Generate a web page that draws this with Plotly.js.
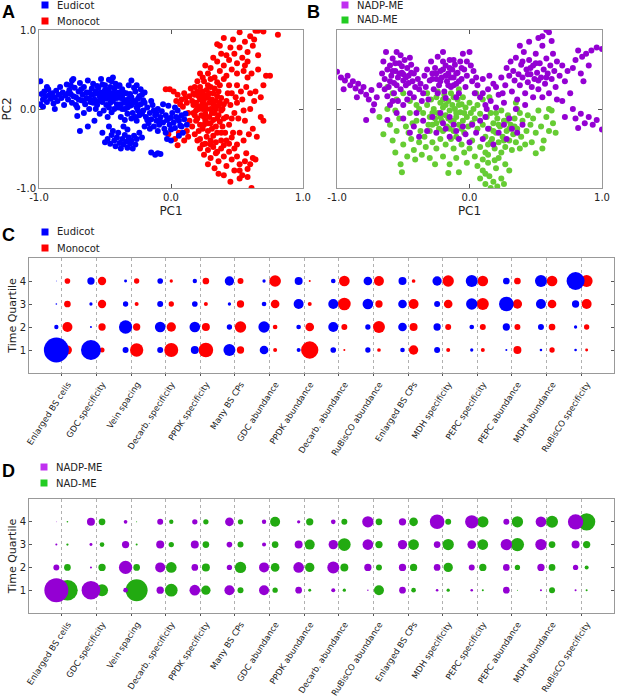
<!DOCTYPE html>
<html><head><meta charset="utf-8">
<script src="https://cdn.plot.ly/plotly-3.0.1.min.js"></script>
<style>html,body{margin:0;padding:0;background:#fff}#chart{width:617px;height:697px}</style>
</head><body><div id="chart"></div>
<script>
const W = 617, H = 697;

// ---------- Panel A / B : PCA scores ----------
const pcTicks = [-1, 0, 1];
const pcTickText = ['-1.0', '0.0', '1.0'];

const eudicotPC = [
[-0.99,0.35],[-0.98,0.19],[-0.97,0.12],[-0.99,0.06],[-0.96,0.22],[-0.95,0.16],[-0.94,0.09],[-0.93,0.25],[-0.92,0.18],[-0.91,0.13],[-0.9,0.2],[-0.89,0.07],[-0.88,0.15],[-0.87,0.23],[-0.86,0.1],[-0.85,0.18],[-0.84,0.28],[-0.83,0.14],[-0.82,0.21],[-0.81,0.05],[-0.8,0.17],[-0.79,0.31],[-0.97,0.03],[-0.94,0.28],[-0.88,0.0],
[-0.78,0.12],[-0.77,0.24],[-0.76,0.19],[-0.75,0.08],[-0.74,0.38],[-0.73,0.27],[-0.72,0.15],[-0.71,0.02],[-0.7,0.22],[-0.69,0.33],[-0.68,0.11],[-0.67,0.18],[-0.66,0.28],[-0.65,0.06],[-0.64,0.14],[-0.63,0.36],[-0.62,0.21],[-0.61,0.09],[-0.6,0.26],[-0.78,0.2],[-0.76,0.3],[-0.74,0.16],[-0.72,0.05],[-0.7,0.12],[-0.68,0.25],[-0.66,0.1],[-0.64,0.21],[-0.62,0.13],[-0.6,0.18],[-0.71,-0.09],[-0.69,-0.28],[-0.63,-0.22],[-0.66,-0.05],[-0.62,0.0],[-0.75,0.36],
[-0.59,0.32],[-0.58,0.12],[-0.57,0.22],[-0.56,0.05],[-0.55,0.27],[-0.54,0.16],[-0.53,0.38],[-0.52,0.09],[-0.51,0.2],[-0.5,0.3],[-0.49,0.13],[-0.48,0.24],[-0.47,0.02],[-0.46,0.17],[-0.45,0.35],[-0.44,0.1],[-0.43,0.26],[-0.42,0.19],[-0.41,0.06],[-0.4,0.29],[-0.58,0.19],[-0.56,0.29],[-0.55,0.1],[-0.53,0.21],[-0.52,0.31],[-0.5,0.15],[-0.49,0.05],[-0.47,0.22],[-0.46,0.28],[-0.45,0.12],[-0.44,0.2],[-0.42,0.32],[-0.41,0.14],[-0.57,0.0],[-0.54,-0.06],[-0.51,-0.02],[-0.48,-0.1],[-0.45,-0.04],[-0.43,0.0],[-0.59,0.08],[-0.5,0.24],[-0.47,0.37],[-0.43,0.14],[-0.55,0.2],[-0.48,0.18],[-0.52,0.14],[-0.46,0.08],[-0.4,0.21],[-0.58,-0.15],[-0.44,0.4],
[-0.39,0.17],[-0.38,0.06],[-0.37,0.25],[-0.36,0.12],[-0.35,0.0],[-0.34,0.2],[-0.33,0.09],[-0.32,0.3],[-0.31,0.04],[-0.3,0.15],[-0.29,-0.05],[-0.28,0.1],[-0.27,0.22],[-0.26,0.02],[-0.25,0.13],[-0.24,-0.08],[-0.23,0.06],[-0.22,0.18],[-0.21,-0.02],[-0.2,0.08],[-0.39,0.3],[-0.37,0.0],[-0.36,0.21],[-0.34,0.1],[-0.33,-0.06],[-0.31,0.19],[-0.3,0.05],[-0.28,0.27],[-0.27,-0.1],[-0.25,0.04],[-0.24,0.16],[-0.22,-0.06],[-0.21,0.11],[-0.38,-0.1],[-0.35,-0.14],[-0.3,-0.12],[-0.26,-0.15],[-0.32,0.13],[-0.29,0.08],[-0.35,0.08],[-0.38,0.14],[-0.23,0.25],[-0.3,0.36],[-0.26,0.3],[-0.2,0.21],[-0.33,0.02],[-0.37,0.17],[-0.27,0.08],[-0.25,-0.02],[-0.4,0.02],
[-0.5,-0.42],[-0.48,-0.38],[-0.46,-0.44],[-0.45,-0.33],[-0.43,-0.4],[-0.42,-0.47],[-0.41,-0.36],[-0.4,-0.3],[-0.39,-0.43],[-0.38,-0.5],[-0.37,-0.38],[-0.36,-0.45],[-0.35,-0.33],[-0.34,-0.41],[-0.33,-0.49],[-0.32,-0.36],[-0.31,-0.44],[-0.3,-0.4],[-0.29,-0.5],[-0.28,-0.34],[-0.27,-0.45],[-0.26,-0.38],[-0.24,-0.3],[-0.22,-0.36],[-0.44,-0.28],[-0.52,-0.3],[-0.33,-0.26],[-0.36,-0.22],[-0.47,-0.22],
[-0.19,-0.1],[-0.18,0.02],[-0.17,-0.18],[-0.16,-0.05],[-0.15,-0.13],[-0.14,0.05],[-0.13,-0.22],[-0.12,-0.08],[-0.11,-0.15],[-0.1,0.0],[-0.09,-0.2],[-0.08,-0.1],[-0.07,-0.03],[-0.06,-0.17],[-0.05,-0.25],[-0.04,-0.08],[-0.03,-0.14],[-0.02,0.04],[-0.01,-0.2],[0.0,-0.11],[0.01,-0.05],[0.02,-0.17],[0.03,-0.24],[0.04,-0.1],[0.05,-0.02],[0.06,-0.15],[0.07,-0.21],[0.08,-0.08],[0.09,-0.3],[0.1,-0.13],[0.12,-0.2],[-0.18,-0.14],[-0.15,0.1],[-0.13,-0.02],[-0.1,-0.28],[-0.08,-0.16],[-0.06,0.06],[-0.04,-0.3],[-0.02,-0.12],[0.0,-0.26],[0.03,0.02],[0.05,-0.12],[0.0,-0.4],[-0.03,-0.38],[-0.15,-0.55],[-0.12,-0.58],[-0.1,-0.56],[-0.08,-0.57],[0.08,-0.22],[-0.11,-0.06],[-0.16,-0.25],[-0.2,-0.22],[0.11,-0.06],[0.06,-0.34]
];

const monocotPC = [
[-0.04,0.25],[-0.01,0.25],[0.02,0.22],[0.05,0.18],[0.08,0.12],[0.1,0.2],[0.12,0.08],[0.14,0.16],[0.09,0.03],[0.13,-0.05],[0.06,-0.3],[0.03,-0.38],[0.05,-0.46],[0.1,-0.4],[0.12,-0.28],[0.14,-0.15],[0.07,0.06],[0.11,0.14],[-0.02,-0.32],[0.15,0.26],[0.04,0.1],[0.13,-0.35],
[0.16,0.1],[0.17,-0.05],[0.18,0.18],[0.19,-0.15],[0.2,0.03],[0.21,-0.28],[0.22,0.12],[0.23,-0.08],[0.24,0.22],[0.25,-0.2],[0.26,0.05],[0.27,-0.35],[0.28,0.15],[0.29,-0.1],[0.3,0.0],[0.31,-0.25],[0.32,0.2],[0.33,-0.05],[0.34,0.1],[0.35,-0.3],[0.36,0.04],[0.37,-0.16],[0.38,0.14],[0.39,-0.22],[0.4,0.06],
[0.16,-0.22],[0.17,0.2],[0.18,-0.32],[0.19,0.08],[0.2,-0.12],[0.21,0.16],[0.22,-0.38],[0.23,0.04],[0.24,-0.25],[0.25,0.12],[0.26,-0.06],[0.27,0.24],[0.28,-0.18],[0.29,0.08],[0.3,-0.4],[0.31,0.12],[0.32,-0.14],[0.33,0.26],[0.34,-0.22],[0.35,0.16],[0.36,-0.08],[0.37,0.3],[0.38,-0.3],[0.39,0.0],[0.4,-0.12],
[0.17,0.05],[0.19,-0.02],[0.21,0.0],[0.23,0.18],[0.25,-0.1],[0.27,0.0],[0.29,0.2],[0.31,-0.05],[0.33,0.03],[0.35,-0.12],[0.37,0.08],[0.2,0.22],[0.22,-0.2],[0.24,0.0],[0.26,0.17],[0.28,-0.28],[0.3,0.1],[0.32,-0.34],[0.34,0.0],[0.36,0.22],[0.38,-0.02],[0.18,-0.08],[0.26,-0.15],[0.3,-0.18],[0.24,0.08],[0.28,0.3],[0.22,0.28],[0.32,0.06],[0.34,-0.42],[0.26,-0.44],[0.2,-0.4],[0.18,0.28],[0.35,0.34],[0.25,0.35],[0.3,0.28],
[0.22,-0.5],[0.25,-0.58],[0.28,-0.52],[0.3,-0.62],[0.32,-0.48],[0.34,-0.56],[0.36,-0.66],[0.38,-0.5],[0.4,-0.6],[0.42,-0.72],[0.44,-0.54],[0.46,-0.64],[0.48,-0.78],[0.5,-0.6],[0.52,-0.7],[0.54,-0.84],[0.56,-0.66],[0.58,-0.76],[0.6,-0.7],[0.62,-0.62],[0.44,-0.44],[0.48,-0.5],[0.4,-0.46],[0.36,-0.82],[0.33,-0.75],[0.45,-0.92],[0.52,-0.88],[0.61,-1.0],[0.64,-0.64],[0.57,-0.56],[0.5,-0.45],[0.42,-0.4],[0.38,-0.4],[0.46,-0.36],[0.55,-0.4],[0.28,-0.7],[0.4,-0.84],[0.52,-0.78],[0.58,-0.86],[0.3,-0.45],[0.24,-0.45],[0.35,-0.54],
[0.42,0.1],[0.44,-0.2],[0.46,0.2],[0.48,-0.05],[0.5,0.3],[0.52,-0.3],[0.54,0.12],[0.56,-0.15],[0.58,0.4],[0.6,0.0],[0.62,-0.25],[0.64,0.22],[0.66,0.5],[0.68,-0.1],[0.7,0.3],[0.72,0.42],[0.75,0.42],[0.7,-0.15],[0.45,0.05],[0.47,-0.3],[0.49,0.15],[0.51,-0.12],[0.53,0.22],[0.55,-0.02],[0.57,0.28],[0.59,-0.32],[0.61,0.45],[0.63,0.1],[0.65,-0.35],[0.42,-0.1],[0.44,0.3],[0.41,-0.3],[0.43,0.2],[0.46,-0.12],[0.5,0.08],[0.56,0.55],[0.6,0.2],[0.68,0.15],
[0.2,0.35],[0.24,0.4],[0.28,0.45],[0.3,0.52],[0.33,0.4],[0.35,0.6],[0.37,0.48],[0.4,0.55],[0.42,0.42],[0.44,0.62],[0.46,0.5],[0.48,0.7],[0.5,0.58],[0.52,0.78],[0.54,0.65],[0.56,0.85],[0.58,0.72],[0.6,0.92],[0.62,0.8],[0.4,0.38],[0.38,0.7],[0.35,0.82],[0.37,0.8],[0.42,0.68],[0.45,0.78],[0.5,0.45],[0.55,0.48],[0.3,0.38],[0.26,0.55],[0.22,0.45],[0.66,0.99],[0.64,0.99],[0.7,0.98],[0.52,0.97],[0.81,0.94],[0.63,0.88],[0.66,0.68],[0.47,0.88],[0.32,0.65],[0.58,0.6],[0.4,0.9]
];

const nadpPC = [
[-1.0,0.47],[-0.97,0.4],[-0.94,0.36],[-0.92,0.42],[-0.9,0.3],[-0.88,0.35],[-0.86,0.26],[-0.84,0.32],[-0.82,0.22],[-0.8,0.28],[-0.78,0.18],[-0.76,0.12],[-0.74,0.24],[-0.72,0.06],[-0.7,0.15],[-0.78,-0.14],[-0.73,-0.02],[-0.68,0.3],[-0.95,0.25],[-0.85,0.15],
[-0.66,0.45],[-0.65,0.6],[-0.64,0.38],[-0.63,0.72],[-0.62,0.5],[-0.61,0.28],[-0.6,0.55],[-0.59,0.42],[-0.58,0.64],[-0.57,0.33],[-0.56,0.48],[-0.55,0.72],[-0.54,0.4],[-0.53,0.58],[-0.52,0.25],[-0.51,0.46],[-0.5,0.36],[-0.49,0.62],[-0.48,0.3],[-0.47,0.52],[-0.46,0.42],[-0.45,0.2],[-0.44,0.56],[-0.43,0.35],[-0.42,0.45],[-0.41,0.28],[-0.4,0.5],[-0.39,0.38],[-0.6,0.35],[-0.58,0.48],[-0.56,0.58],[-0.55,0.3],[-0.53,0.45],[-0.51,0.54],[-0.5,0.44],[-0.48,0.4],[-0.46,0.33],[-0.44,0.46],[-0.57,0.2],[-0.62,0.16],[-0.54,0.1],[-0.5,0.05],[-0.47,0.12],[-0.6,0.05],[-0.52,0.68],[-0.45,0.65],[-0.58,0.1],[-0.64,0.25],[-0.42,0.15],[-0.38,0.25],
[-0.37,0.32],[-0.35,0.2],[-0.34,0.42],[-0.33,0.28],[-0.31,0.12],[-0.36,0.1],
[-0.32,0.5],[-0.3,0.36],[-0.29,0.6],[-0.28,0.45],[-0.27,0.25],[-0.26,0.52],[-0.25,0.38],[-0.24,0.66],[-0.23,0.3],[-0.22,0.48],[-0.21,0.4],[-0.2,0.72],[-0.19,0.22],[-0.18,0.55],[-0.17,0.35],[-0.16,0.45],[-0.15,0.62],[-0.14,0.28],[-0.13,0.5],[-0.12,0.4],[-0.11,0.56],[-0.1,0.32],[-0.09,0.46],[-0.08,0.2],[-0.07,0.6],[-0.06,0.38],[-0.05,0.7],[-0.04,0.5],[-0.03,0.28],[-0.02,0.42],[0.0,0.72],[0.01,0.55],[0.02,0.35],[0.03,0.48],[0.04,0.2],[-0.28,0.38],[-0.25,0.45],[-0.22,0.35],[-0.2,0.5],[-0.18,0.42],[-0.16,0.3],[-0.14,0.4],[-0.12,0.62],[-0.1,0.45],[-0.08,0.35],[-0.06,0.52],[-0.2,0.6],[-0.15,0.52],[-0.24,0.2],[-0.1,0.15],[-0.02,0.6],[-0.12,0.3],[-0.18,0.14],[0.05,0.4],
[0.06,0.3],[0.08,0.15],[0.1,0.38],[0.12,0.05],[0.14,0.25],[0.16,0.1],[0.18,0.32],[0.2,0.02],[0.22,0.18],[0.24,0.4],[0.26,0.08],[0.1,0.2],[0.15,0.42],[0.2,0.28],[0.25,0.2],[0.13,0.0],
[0.27,0.3],[0.28,0.52],[0.3,0.42],[0.31,0.6],[0.32,0.22],[0.33,0.48],[0.34,0.36],[0.35,0.65],[0.36,0.12],[0.37,0.44],[0.38,0.3],[0.39,0.56],[0.4,0.4],[0.41,0.72],[0.42,0.2],[0.43,0.5],[0.44,0.34],[0.45,0.62],[0.46,0.44],[0.47,0.28],[0.48,0.55],[0.49,0.38],[0.5,0.7],[0.51,0.46],[0.52,0.25],[0.53,0.58],[0.54,0.4],[0.55,0.8],[0.56,0.5],[0.57,0.32],[0.58,0.64],[0.59,0.45],[0.6,0.2],[0.61,0.55],[0.62,0.38],[0.63,0.7],[0.64,0.48],[0.65,0.28],[0.66,0.6],[0.68,0.42],[0.7,0.55],[0.72,0.35],[0.74,0.48],[0.38,0.8],[0.45,0.85],[0.52,0.9],[0.55,0.92],[0.58,1.0],[0.6,0.97],[0.62,0.86],[0.48,0.15],[0.55,0.15],[0.42,0.05],[0.35,0.0],[0.66,0.12],[0.46,0.52],[0.52,0.36],[0.58,0.4],[0.5,0.58],[0.44,0.44],[0.4,0.6],
[0.78,0.52],[0.8,0.62],[0.82,0.74],[0.85,0.66],[0.88,0.7],[0.92,0.74],[0.96,0.78],[1.0,0.76],[0.84,0.45],[0.9,0.55],[0.86,0.35],[0.78,0.0],[0.8,-0.12],[0.84,-0.06],[0.87,-0.18],[0.9,-0.1],[0.93,-0.2],[0.96,-0.14],[1.0,-0.26],[0.82,-0.24],[0.76,0.2],[0.72,-0.1],[0.7,0.1],
[-0.62,-0.14],[-0.55,-0.05],[-0.5,-0.12],[-0.45,-0.3],[-0.42,-0.22],[-0.38,-0.35],[-0.35,-0.15],[-0.32,-0.28],[-0.28,-0.1],[-0.25,-0.3],[-0.2,-0.18],[-0.18,-0.25],[-0.15,-0.35],[-0.12,-0.2],[-0.1,-0.28],[-0.08,-0.38],[-0.05,-0.22],[-0.03,-0.32],[0.0,-0.42],[0.02,-0.2],[0.05,-0.3],[0.08,-0.15],[0.1,-0.38],[0.14,-0.25],[0.18,-0.45],[0.22,-0.3],[0.26,-0.2],[0.28,-0.38],[0.32,-0.25],[0.36,-0.3],[0.3,-0.12],[-0.4,-0.05],[-0.22,-0.05],[0.12,-0.1],[-0.15,-0.1],[0.4,-0.2]
];

const nadPC = [
[-0.32,0.05],[-0.3,-0.1],[-0.29,0.12],[-0.28,-0.2],[-0.27,0.0],[-0.26,-0.12],[-0.25,0.15],[-0.24,-0.05],[-0.23,-0.25],[-0.22,0.08],[-0.21,-0.15],[-0.2,0.02],[-0.19,0.18],[-0.18,-0.08],[-0.17,-0.22],[-0.16,0.1],[-0.15,-0.02],[-0.14,-0.15],[-0.13,0.05],[-0.12,-0.28],[-0.11,0.0],[-0.1,-0.1],[-0.09,0.12],[-0.08,-0.2],[-0.07,-0.04],[-0.06,0.06],[-0.05,-0.15],[-0.04,-0.3],[-0.03,0.02],[-0.02,-0.1],[-0.01,-0.22],[0.0,0.08],[0.01,-0.05],[0.02,-0.18],[0.03,0.0],[0.04,-0.12],[0.06,-0.25],[0.08,-0.06],[-0.28,-0.05],[-0.25,-0.18],[-0.22,-0.1],[-0.2,-0.28],[-0.18,0.05],[-0.15,-0.25],[-0.12,0.15],[-0.1,-0.05],[-0.08,0.05],[-0.06,-0.25],[-0.04,-0.05],[-0.14,0.2],[-0.2,0.12],[-0.05,0.15],[-0.3,-0.28],[-0.16,-0.12],[-0.1,-0.35],[0.06,0.05],[-0.24,0.22],[-0.12,-0.15],
[0.1,-0.2],[0.12,-0.35],[0.13,-0.1],[0.14,-0.45],[0.15,-0.25],[0.16,-0.05],[0.17,-0.38],[0.18,-0.18],[0.19,-0.5],[0.2,-0.3],[0.21,-0.12],[0.22,-0.42],[0.23,-0.22],[0.24,-0.02],[0.25,-0.35],[0.26,-0.15],[0.27,-0.48],[0.28,-0.28],[0.29,-0.08],[0.3,-0.4],[0.31,-0.2],[0.32,-0.52],[0.33,-0.32],[0.34,-0.12],[0.35,-0.42],[0.36,-0.25],[0.38,-0.05],[0.39,-0.35],[0.4,-0.15],[0.42,-0.45],[0.43,-0.28],[0.44,-0.08],[0.18,-0.28],[0.22,-0.2],[0.26,-0.4],[0.3,-0.25],[0.24,-0.55],[0.2,-0.05],[0.34,-0.22],[0.28,-0.15],[0.16,-0.42],[0.12,-0.55],[0.38,-0.5],[0.46,-0.2],[0.36,0.0],
[0.48,-0.12],[0.5,-0.3],[0.52,-0.02],[0.54,-0.22],[0.56,-0.4],[0.58,-0.1],[0.6,-0.28],[0.62,-0.02],[0.63,-0.18],[0.5,-0.56],[0.47,-0.42],[0.55,-0.5],[0.6,0.0],[0.65,-0.3],
[-0.65,-0.32],[-0.62,0.0],[-0.6,-0.2],[-0.58,-0.4],[-0.56,-0.55],[-0.55,-0.28],[-0.53,-0.12],[-0.52,-0.7],[-0.51,-0.8],[-0.5,-0.45],[-0.48,-0.22],[-0.47,-0.6],[-0.45,-0.05],[-0.44,-0.38],[-0.42,-0.52],[-0.41,-0.64],[-0.4,-0.15],[-0.38,-0.42],[-0.37,-0.28],[-0.36,-0.58],[-0.35,-0.05],[-0.34,-0.35],[-0.33,-0.48],[-0.31,-0.2],[-0.3,-0.62],[-0.58,0.2],[-0.62,0.28],[-0.55,0.12],[-0.5,0.2],[-0.45,0.1],[-0.4,0.05],[-0.68,-0.1],[-0.56,-0.02],[-0.46,-0.3],[-0.43,-0.18],[-0.38,0.0],
[-0.28,-0.42],[-0.25,-0.5],[-0.22,-0.38],[-0.2,-0.6],[-0.18,-0.45],[-0.15,-0.7],[-0.12,-0.5],[-0.1,-0.62],[-0.08,-0.8],[-0.06,-0.45],[-0.04,-0.55],[-0.02,-0.68],[0.0,-0.5],[0.02,-0.4],[0.04,-0.6],[0.06,-0.72],[0.08,-0.48],[-0.16,-0.81],[-0.26,-0.7],[-0.14,-0.38],
[0.08,-0.88],[0.1,-0.78],[0.12,-0.95],[0.14,-0.68],[0.15,-0.85],[0.16,-1.0],[0.18,-0.92],[0.2,-0.75],[0.21,-0.98],[0.22,-0.62],[0.24,-0.88],[0.26,-0.95],[0.27,-0.7],[0.14,-0.58],[0.1,-0.64],[0.19,-0.65],[0.3,-0.78],[0.12,-0.82],
[-0.08,0.25],[0.05,0.2],[0.1,0.12],[-0.32,0.2],[0.15,0.15],[0.35,0.08]
];

// ---------- Panel C / D : trait acquisition by time quartile (bubble values, estimated) ----------
const categories = ['Enlarged BS cells','GDC specificity','Vein spacing','Decarb. specificity','PPDK specificity','Many BS CPs','GDC abundance','PPDK abundance','Decarb. abundance','RuBisCO abundance','Enlarged BS CPs','MDH specificity','PEPC specificity','PEPC abundance','MDH abundance','RuBisCO specificity'];
const quartiles = [1, 2, 3, 4];

const eudicotQ1 = [92.2, 59.0, 5.3, 5.3, 9.4, 21.2, 11.1, 2.4, 4.7, 4.2, 3.2, 5.3, 1.6, 0.6, 1.0, 1.0];
const eudicotQ2 = [2.8, 0.6, 26.2, 16.8, 16.8, 4.2, 19.0, 3.2, 14.8, 4.2, 11.1, 7.9, 3.2, 7.9, 5.3, 1.6];
const eudicotQ3 = [0.4, 1.6, 4.2, 5.3, 4.7, 1.6, 3.2, 14.8, 14.8, 16.8, 11.1, 5.3, 19.0, 31.7, 14.8, 7.9];
const eudicotQ4 = [0.1, 7.9, 1.3, 4.7, 2.8, 12.9, 1.6, 9.4, 3.2, 11.1, 9.4, 12.9, 21.2, 6.6, 21.2, 47.8];

const monocotQ1 = [12.0, 3.7, 26.2, 28.9, 31.7, 7.9, 2.4, 44.3, 0.6, 2.0, 12.9, 2.4, 2.4, 9.4, 4.2, 1.3];
const monocotQ2 = [14.8, 7.9, 7.9, 12.9, 9.4, 19.0, 3.2, 11.1, 5.3, 21.2, 9.4, 5.3, 5.3, 5.3, 6.6, 4.2];
const monocotQ3 = [6.6, 10.2, 2.4, 4.2, 2.4, 7.9, 11.1, 2.4, 23.7, 7.9, 14.8, 11.1, 21.2, 12.9, 11.1, 14.8];
const monocotQ4 = [4.7, 10.2, 4.2, 1.6, 6.6, 5.3, 20.1, 0.6, 16.8, 14.8, 2.0, 19.0, 16.8, 6.6, 16.8, 21.2];

const nadpQ1 = [85.0, 51.4, 3.2, 7.9, 16.8, 14.8, 14.8, 6.6, 2.4, 0.3, 6.6, 1.0, 1.0, 6.6, 0.6, 0.6];
const nadpQ2 = [5.3, 0.6, 26.2, 14.8, 6.6, 4.2, 14.8, 16.8, 21.2, 7.9, 7.9, 6.6, 5.3, 6.6, 7.9, 4.2];
const nadpQ3 = [0.6, 1.3, 7.9, 9.4, 9.4, 4.7, 2.4, 9.4, 12.9, 16.8, 12.9, 6.6, 11.1, 19.0, 19.0, 9.4];
const nadpQ4 = [0.1, 9.4, 2.0, 5.3, 4.2, 11.1, 2.8, 1.6, 3.2, 19.0, 7.9, 31.7, 26.2, 5.3, 16.8, 34.7];

const nadQ1 = [63.0, 21.2, 71.4, 23.7, 12.9, 5.3, 4.2, 1.3, 1.6, 14.8, 3.2, 1.6, 0.6, 0.15, 5.3, 0.6];
const nadQ2 = [6.6, 7.9, 6.6, 16.8, 9.4, 19.0, 11.1, 12.9, 9.4, 5.3, 7.9, 12.9, 7.9, 4.2, 6.6, 2.4];
const nadQ3 = [0.8, 3.2, 0.6, 4.2, 6.6, 5.3, 6.6, 14.8, 23.7, 7.9, 16.8, 19.0, 16.8, 26.2, 6.6, 7.9];
const nadQ4 = [0.4, 6.6, 0.15, 2.8, 4.2, 4.2, 14.8, 7.9, 5.3, 6.6, 11.1, 5.3, 19.0, 19.0, 21.2, 44.3];

// ---------- styling ----------
const COL = {eud:'#0000ff', mon:'#ff0000', nadp:'#9400d3', nad:'#22aa11', nadPt:'#66cc33', nadpLeg:'#c030f0', nadLeg:'#22cc22'};
const FONT = 'DejaVu Sans, Verdana, sans-serif';
const fx = p => p / W, fy = p => 1 - p / H;

function pcTrace(pts, color, xa, ya, name) {
  return {type:'scatter', mode:'markers', name, xaxis:xa, yaxis:ya, hoverinfo:'skip',
    x: pts.map(p => p[0]), y: pts.map(p => p[1]),
    marker:{size:6, color, line:{width:0}}};
}
const BUBBLE_K = 2.6;
function bubbleTrace(qArrs, offset, color, xa, ya, name) {
  const x = [], y = [], s = [];
  qArrs.forEach((arr, qi) => arr.forEach((v, ci) => {
    x.push(ci + offset); y.push(quartiles[qi]); s.push(BUBBLE_K * Math.sqrt(v));
  }));
  return {type:'scatter', mode:'markers', name, xaxis:xa, yaxis:ya, hoverinfo:'skip', x, y,
    marker:{size:s, color, line:{width:0}, opacity:1}};
}
const OFF = 0.16;
const traces = [
  pcTrace(monocotPC, COL.mon, 'x', 'y', 'Monocot'),
  pcTrace(eudicotPC, COL.eud, 'x', 'y', 'Eudicot'),
  pcTrace(nadPC, COL.nadPt, 'x2', 'y2', 'NAD-ME'),
  pcTrace(nadpPC, COL.nadp, 'x2', 'y2', 'NADP-ME'),
  bubbleTrace([monocotQ1, monocotQ2, monocotQ3, monocotQ4], OFF, COL.mon, 'x3', 'y3', 'Monocot'),
  bubbleTrace([eudicotQ1, eudicotQ2, eudicotQ3, eudicotQ4], -OFF, COL.eud, 'x3', 'y3', 'Eudicot'),
  bubbleTrace([nadQ1, nadQ2, nadQ3, nadQ4], OFF, COL.nad, 'x4', 'y4', 'NAD-ME'),
  bubbleTrace([nadpQ1, nadpQ2, nadpQ3, nadpQ4], -OFF, COL.nadp, 'x4', 'y4', 'NADP-ME')
];

const axBase = {showline:true, linecolor:'#999', linewidth:1, mirror:'ticks', ticks:'inside', ticklen:4,
  tickcolor:'#555', showgrid:false, zeroline:false, automargin:false,
  tickfont:{family:FONT, size:10, color:'#222'}};
const titleFont = {family:FONT, size:12, color:'#222'};
const catIdx = categories.map((c, i) => i);
const catX = (dom, anchor) => Object.assign({}, axBase, {domain:dom, anchor, range:[-0.95, 15.95],
  tickmode:'array', tickvals:catIdx, ticktext:categories, tickangle:-57, ticks:'outside', ticklen:2, mirror:true,
  ticklabelshift:6, tickfont:{family:FONT, size:8.5, color:'#222'},
  showgrid:true, gridcolor:'#b0b0b0', griddash:'dot', gridwidth:1});
const catY = (dom, anchor) => Object.assign({}, axBase, {domain:dom, anchor, range:[0, 5],
  tickmode:'array', tickvals:quartiles, ticktext:quartiles.map(String), ticklen:3,
  title:{text:'Time Quartile', font:{family:FONT, size:11, color:'#222'}, standoff:0}});

const layout = {
  width:W, height:H, margin:{l:0, r:0, t:0, b:0}, paper_bgcolor:'#fff', plot_bgcolor:'#fff',
  showlegend:false, font:{family:FONT, color:'#222'},
  xaxis: Object.assign({}, axBase, {domain:[fx(39), fx(303)], anchor:'y', range:[-1, 1], tickmode:'array', tickvals:pcTicks, ticktext:pcTickText, title:{text:'PC1', font:titleFont, standoff:4}}),
  yaxis: Object.assign({}, axBase, {domain:[fy(188), fy(30)], anchor:'x', range:[-1, 1], tickmode:'array', tickvals:pcTicks, ticktext:pcTickText, title:{text:'PC2', font:titleFont, standoff:2}}),
  xaxis2: Object.assign({}, axBase, {domain:[fx(337), fx(602)], anchor:'y2', range:[-1, 1], tickmode:'array', tickvals:pcTicks, ticktext:pcTickText, title:{text:'PC1', font:titleFont, standoff:4}}),
  yaxis2: Object.assign({}, axBase, {domain:[fy(188), fy(30)], anchor:'x2', range:[-1, 1], tickmode:'array', tickvals:pcTicks, showticklabels:false}),
  xaxis3: catX([fx(29), fx(614)], 'y3'),
  yaxis3: catY([fy(373), fy(258)], 'x3'),
  xaxis4: catX([fx(29), fx(614)], 'y4'),
  yaxis4: catY([fy(613), fy(499)], 'x4'),
  shapes: [], annotations: []
};

// legends (square patches + labels), panel letters
const legends = [
  {x:45, y:5, color:COL.eud, text:'Eudicot'}, {x:45, y:21, color:COL.mon, text:'Monocot'},
  {x:345, y:5, color:COL.nadpLeg, text:'NADP-ME'}, {x:345, y:20, color:COL.nadLeg, text:'NAD-ME'},
  {x:45, y:232, color:COL.eud, text:'Eudicot'}, {x:45, y:248, color:COL.mon, text:'Monocot'},
  {x:44, y:467, color:COL.nadpLeg, text:'NADP-ME'}, {x:44, y:483, color:COL.nadLeg, text:'NAD-ME'}
];
legends.forEach(l => {
  layout.shapes.push({type:'rect', xref:'paper', yref:'paper', x0:fx(l.x - 3.5), x1:fx(l.x + 3.5), y0:fy(l.y + 3.5), y1:fy(l.y - 3.5), fillcolor:l.color, line:{width:0}});
  layout.annotations.push({xref:'paper', yref:'paper', x:fx(l.x + 10), y:fy(l.y), xanchor:'left', yanchor:'middle', showarrow:false, text:l.text, font:{family:FONT, size:10, color:'#222'}});
});
[['A', 8, 12], ['B', 313, 12], ['C', 8, 235], ['D', 8, 471]].forEach(([t, x, y]) => {
  layout.annotations.push({xref:'paper', yref:'paper', x:fx(x), y:fy(y), xanchor:'center', yanchor:'middle', showarrow:false, text:'<b>' + t + '</b>', font:{family:'Liberation Sans, Arial, sans-serif', size:18, color:'#000'}});
});

Plotly.newPlot('chart', traces, layout, {staticPlot:true, displayModeBar:false});
</script></body></html>
